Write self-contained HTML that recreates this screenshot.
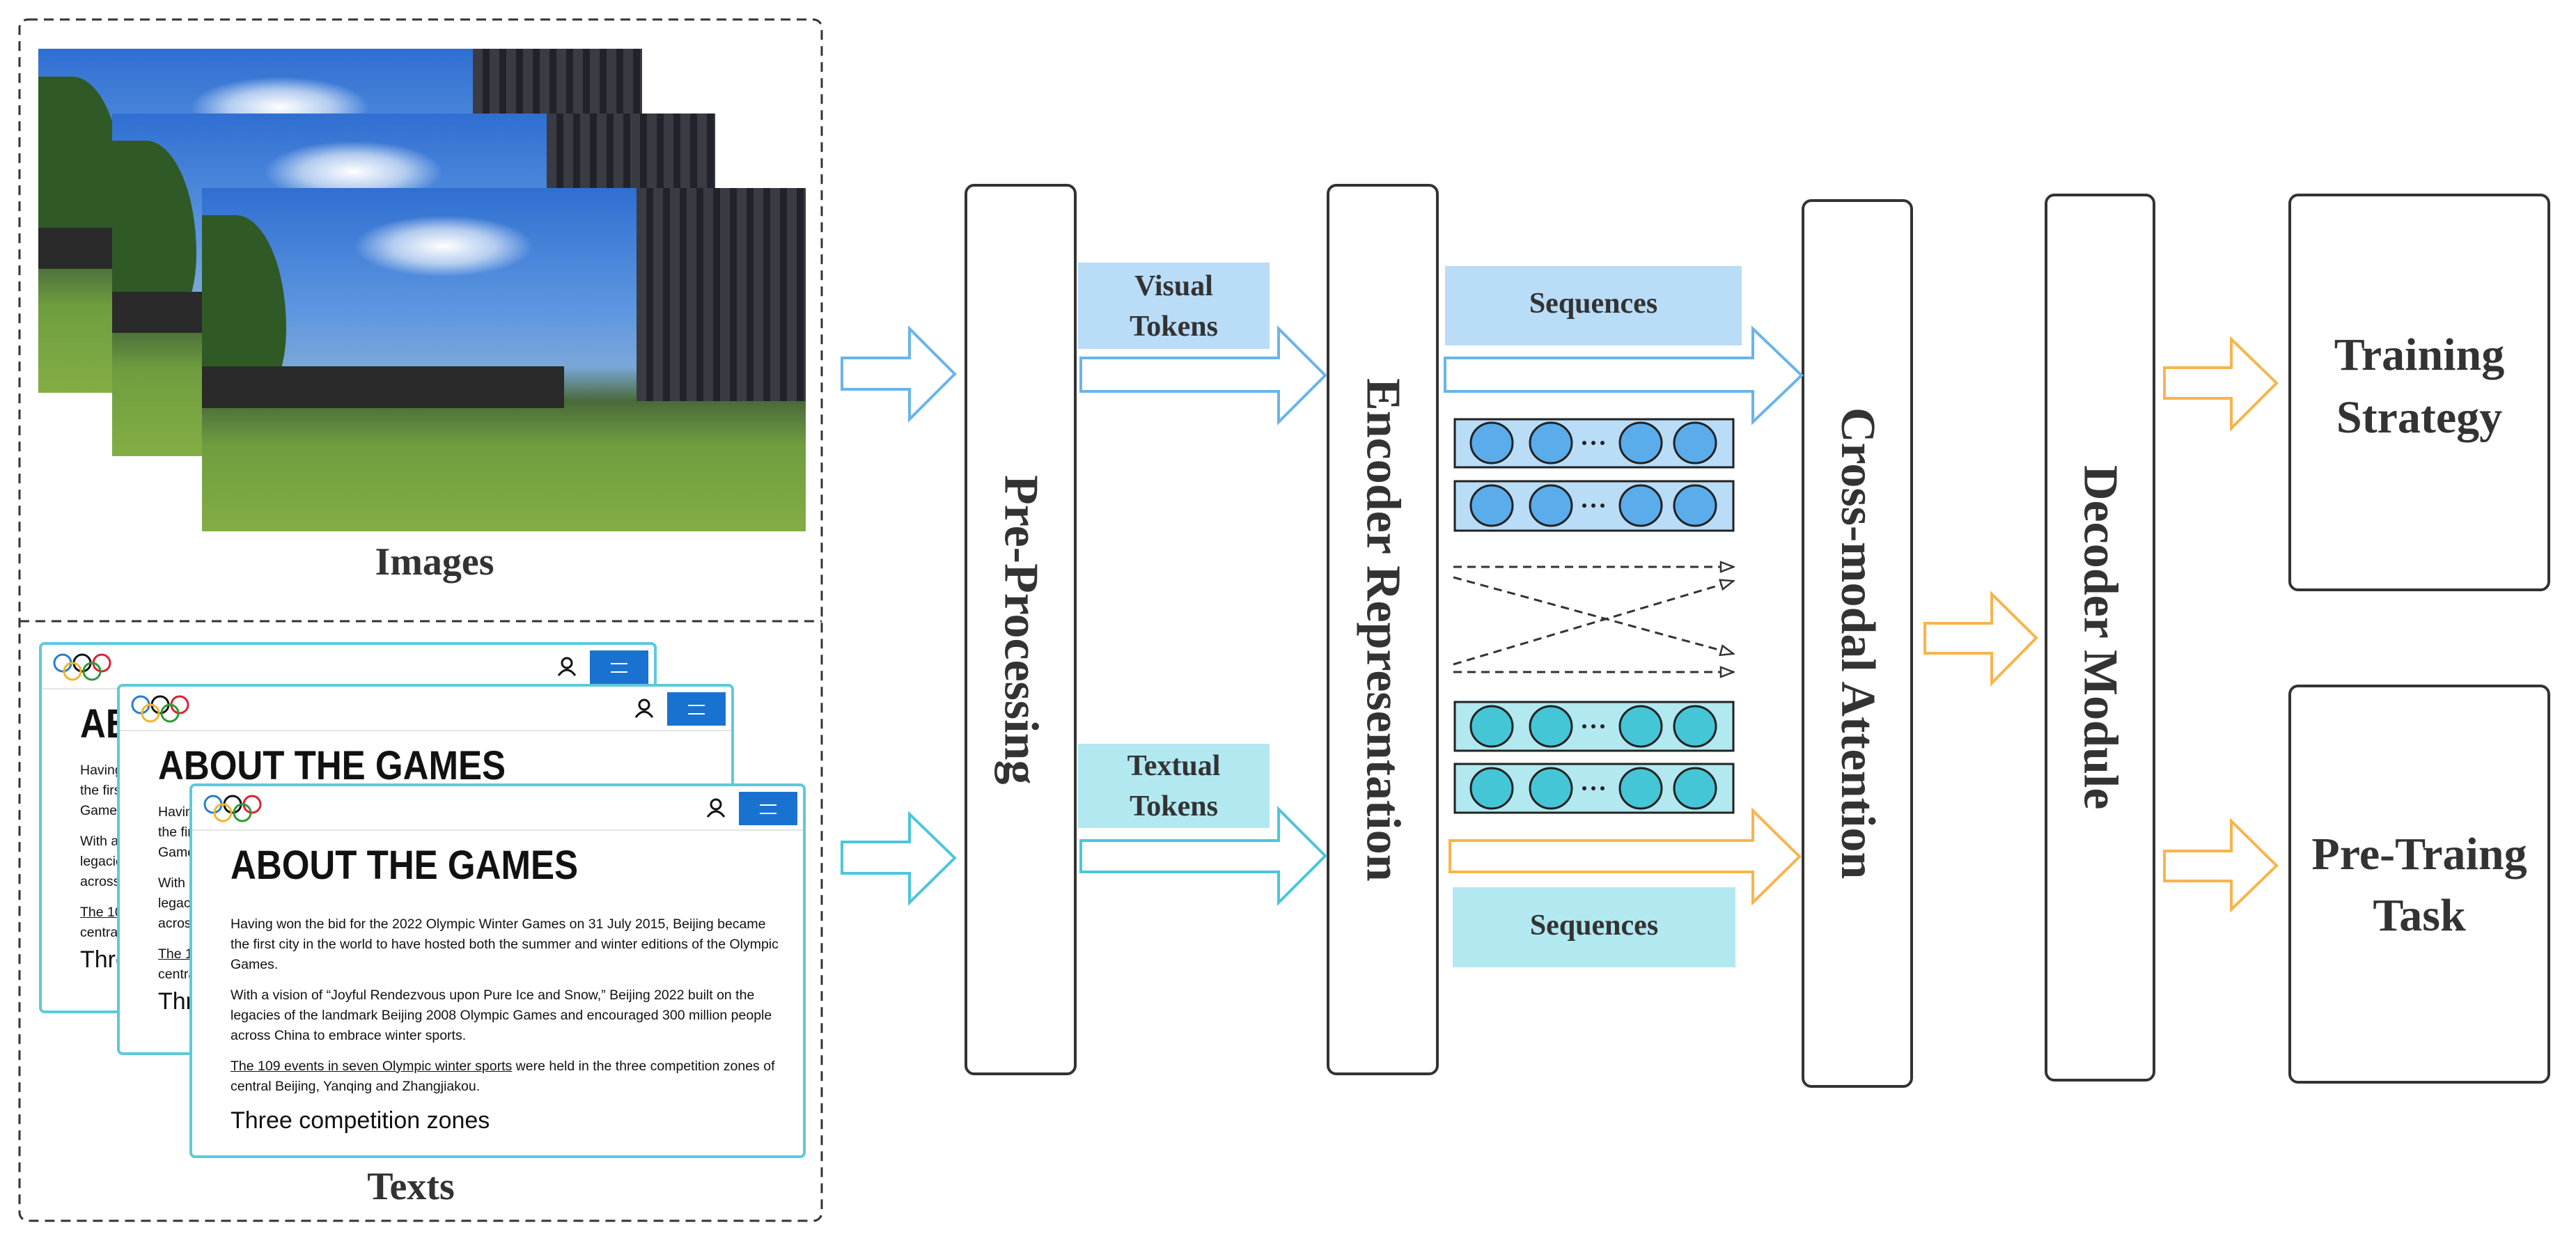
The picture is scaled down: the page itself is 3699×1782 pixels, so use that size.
<!DOCTYPE html>
<html><head><meta charset="utf-8">
<style>
body{margin:0;width:3699px;height:1782px;background:#fff;position:relative;overflow:hidden;font-family:"Liberation Serif",serif;}
.abs{position:absolute;}
.lbl{position:absolute;font-weight:bold;color:#333;text-align:center;font-family:"Liberation Serif",serif;}
.vt{writing-mode:vertical-rl;display:flex;align-items:center;justify-content:center;}
.box{position:absolute;border:4px solid #333;border-radius:14px;box-sizing:border-box;background:#fff;}
.photo{position:absolute;overflow:hidden;background:linear-gradient(180deg,#2f6fd1 0%,#5c95e0 35%,#7aa7d8 52%,#4a6a3a 62%,#6f9e3f 75%,#83ad45 100%);}
.photo .bld{position:absolute;right:0;top:0;width:28%;height:62%;background:repeating-linear-gradient(90deg,#3b3b44 0 14px,#22232a 14px 24px);}
.photo .tree{position:absolute;left:0;top:8%;width:14%;height:55%;background:#2f5a26;border-radius:0 60% 40% 0;}
.photo .wall{position:absolute;left:0;top:52%;width:60%;height:12%;background:#2a2a2a;}
.photo .cl{position:absolute;left:25%;top:8%;width:30%;height:18%;background:radial-gradient(ellipse,#fff 0%,rgba(255,255,255,.6) 40%,rgba(255,255,255,0) 70%);}
.card{position:absolute;border:4px solid #5dc9dc;border-radius:8px;background:#fff;box-sizing:border-box;overflow:hidden;font-family:"Liberation Sans",sans-serif;color:#111;}
.card .hdr{height:62px;border-bottom:2px solid #e5e5e5;position:relative;}
.card .btn{position:absolute;right:8px;top:8px;width:84px;height:48px;background:#1a72d0;}
.card .btn:after{content:"";position:absolute;left:30px;top:18px;width:24px;height:10px;border-top:2px solid #fff;border-bottom:2px solid #fff;}
.card h1{margin:0;position:absolute;left:55px;top:80px;font-size:58px;font-weight:900;letter-spacing:0;transform:scaleX(0.88);transform-origin:left;}
.card .p{position:absolute;left:55px;width:800px;font-size:19.5px;line-height:29px;}
</style></head><body>

<svg class="abs" style="left:0;top:0" width="3699" height="1782">
<rect x="28" y="28" width="1152" height="1725" rx="12" fill="none" stroke="#333" stroke-width="3" stroke-dasharray="14,9"/>
<line x1="28" y1="892" x2="1180" y2="892" stroke="#333" stroke-width="3" stroke-dasharray="14,9"/>
</svg>

<div class="photo" style="left:55px;top:70px;width:867px;height:494px"><div class="cl"></div><div class="tree"></div><div class="wall"></div><div class="bld"></div></div>
<div class="photo" style="left:161px;top:163px;width:866px;height:492px"><div class="cl"></div><div class="tree"></div><div class="wall"></div><div class="bld"></div></div>
<div class="photo" style="left:290px;top:270px;width:867px;height:493px"><div class="cl"></div><div class="tree"></div><div class="wall"></div><div class="bld"></div></div>
<div class="lbl" style="left:474px;top:775px;width:300px;font-size:56px">Images</div>

<div class="card" style="left:56px;top:922px;width:887px;height:533px">
<div class="hdr"><svg class="abs" style="left:14px;top:10px" width="100" height="44"><g fill="none" stroke-width="3"><circle cx="16" cy="16" r="12" stroke="#2a7bd1"/><circle cx="44" cy="16" r="12" stroke="#111"/><circle cx="72" cy="16" r="12" stroke="#d23"/><circle cx="30" cy="28" r="12" stroke="#f3b52b"/><circle cx="58" cy="28" r="12" stroke="#2a9a3a"/></g></svg><svg class="abs" style="right:110px;top:16px" width="30" height="30"><circle cx="15" cy="10" r="7" fill="none" stroke="#111" stroke-width="3"/><path d="M3 28 Q15 12 27 28" fill="none" stroke="#111" stroke-width="3"/></svg><div class="btn"></div></div>
<h1>ABOUT THE GAMES</h1>
<div class="p" style="top:166px">Having won the bid for the 2022 Olympic Winter Games on 31 July 2015, Beijing became the first city in the world to have hosted both the summer and winter editions of the Olympic Games.</div>
<div class="p" style="top:268px">With a vision of “Joyful Rendezvous upon Pure Ice and Snow,” Beijing 2022 built on the legacies of the landmark Beijing 2008 Olympic Games and encouraged 300 million people across China to embrace winter sports.</div>
<div class="p" style="top:370px"><u>The 109 events in seven Olympic winter sports</u> were held in the three competition zones of central Beijing, Yanqing and Zhangjiakou.</div>
<div class="p" style="top:438px;font-size:34px">Three competition zones</div>
</div>
<div class="card" style="left:168px;top:982px;width:886px;height:533px">
<div class="hdr"><svg class="abs" style="left:14px;top:10px" width="100" height="44"><g fill="none" stroke-width="3"><circle cx="16" cy="16" r="12" stroke="#2a7bd1"/><circle cx="44" cy="16" r="12" stroke="#111"/><circle cx="72" cy="16" r="12" stroke="#d23"/><circle cx="30" cy="28" r="12" stroke="#f3b52b"/><circle cx="58" cy="28" r="12" stroke="#2a9a3a"/></g></svg><svg class="abs" style="right:110px;top:16px" width="30" height="30"><circle cx="15" cy="10" r="7" fill="none" stroke="#111" stroke-width="3"/><path d="M3 28 Q15 12 27 28" fill="none" stroke="#111" stroke-width="3"/></svg><div class="btn"></div></div>
<h1>ABOUT THE GAMES</h1>
<div class="p" style="top:166px">Having won the bid for the 2022 Olympic Winter Games on 31 July 2015, Beijing became the first city in the world to have hosted both the summer and winter editions of the Olympic Games.</div>
<div class="p" style="top:268px">With a vision of “Joyful Rendezvous upon Pure Ice and Snow,” Beijing 2022 built on the legacies of the landmark Beijing 2008 Olympic Games and encouraged 300 million people across China to embrace winter sports.</div>
<div class="p" style="top:370px"><u>The 109 events in seven Olympic winter sports</u> were held in the three competition zones of central Beijing, Yanqing and Zhangjiakou.</div>
<div class="p" style="top:438px;font-size:34px">Three competition zones</div>
</div>
<div class="card" style="left:272px;top:1125px;width:885px;height:538px">
<div class="hdr"><svg class="abs" style="left:14px;top:10px" width="100" height="44"><g fill="none" stroke-width="3"><circle cx="16" cy="16" r="12" stroke="#2a7bd1"/><circle cx="44" cy="16" r="12" stroke="#111"/><circle cx="72" cy="16" r="12" stroke="#d23"/><circle cx="30" cy="28" r="12" stroke="#f3b52b"/><circle cx="58" cy="28" r="12" stroke="#2a9a3a"/></g></svg><svg class="abs" style="right:110px;top:16px" width="30" height="30"><circle cx="15" cy="10" r="7" fill="none" stroke="#111" stroke-width="3"/><path d="M3 28 Q15 12 27 28" fill="none" stroke="#111" stroke-width="3"/></svg><div class="btn"></div></div>
<h1>ABOUT THE GAMES</h1>
<div class="p" style="top:184px">Having won the bid for the 2022 Olympic Winter Games on 31 July 2015, Beijing became the first city in the world to have hosted both the summer and winter editions of the Olympic Games.</div>
<div class="p" style="top:286px">With a vision of “Joyful Rendezvous upon Pure Ice and Snow,” Beijing 2022 built on the legacies of the landmark Beijing 2008 Olympic Games and encouraged 300 million people across China to embrace winter sports.</div>
<div class="p" style="top:388px"><u>The 109 events in seven Olympic winter sports</u> were held in the three competition zones of central Beijing, Yanqing and Zhangjiakou.</div>
<div class="p" style="top:466px;font-size:34px">Three competition zones</div>
</div>
<div class="lbl" style="left:440px;top:1672px;width:300px;font-size:56px">Texts</div>

<div class="abs" style="left:1548px;top:377px;width:275px;height:124px;background:#b9dcf7"></div>
<div class="lbl" style="left:1548px;top:382px;width:275px;font-size:42px;line-height:58px">Visual<br>Tokens</div>
<div class="abs" style="left:1548px;top:1068px;width:275px;height:121px;background:#b2e8f0"></div>
<div class="lbl" style="left:1548px;top:1071px;width:275px;font-size:42px;line-height:58px">Textual<br>Tokens</div>
<div class="abs" style="left:2075px;top:382px;width:426px;height:114px;background:#b9dcf7"></div>
<div class="lbl" style="left:2075px;top:412px;width:426px;font-size:42px">Sequences</div>
<div class="abs" style="left:2086px;top:1274px;width:406px;height:115px;background:#b2e8f0"></div>
<div class="lbl" style="left:2086px;top:1305px;width:406px;font-size:42px">Sequences</div>

<div class="box vt" style="left:1385px;top:264px;width:161px;height:1280px"><span class="lbl" style="position:static;font-size:70px">Pre-Processing</span></div>
<div class="box vt" style="left:1905px;top:264px;width:161px;height:1280px"><span class="lbl" style="position:static;font-size:70px">Encoder Representation</span></div>
<div class="box vt" style="left:2587px;top:286px;width:160px;height:1276px"><span class="lbl" style="position:static;font-size:70px">Cross-modal Attention</span></div>
<div class="box vt" style="left:2936px;top:278px;width:159px;height:1275px"><span class="lbl" style="position:static;font-size:70px">Decoder Module</span></div>
<div class="box" style="left:3286px;top:278px;width:376px;height:571px"></div>
<div class="lbl" style="left:3286px;top:465px;width:376px;font-size:66px;line-height:90px">Training<br>Strategy</div>
<div class="box" style="left:3286px;top:983px;width:376px;height:573px"></div>
<div class="lbl" style="left:3286px;top:1183px;width:376px;font-size:66px;line-height:88px">Pre-Traing<br>Task</div>

<svg class="abs" style="left:0;top:0" width="3699" height="1782">
<defs><marker id="oh" markerWidth="22" markerHeight="20" refX="21" refY="10" orient="auto" markerUnits="userSpaceOnUse"><path d="M2,3 L20,10 L2,17 Z" fill="#fff" stroke="#333" stroke-width="2.5"/></marker></defs>
<g fill="#fff" stroke-width="4" stroke-linejoin="miter">
<polygon stroke="#6ab4ea" points="1209,514 1306,514 1306,472 1371,537 1306,602 1306,559 1209,559"/>
<polygon stroke="#4cc6dc" points="1209,1209 1306,1209 1306,1169 1371,1232 1306,1296 1306,1254 1209,1254"/>
<polygon stroke="#6ab4ea" points="1552,514 1836,514 1836,472 1903,539 1836,606 1836,562 1552,562"/>
<polygon stroke="#4cc6dc" points="1552,1207 1836,1207 1836,1162 1903,1229 1836,1296 1836,1252 1552,1252"/>
<polygon stroke="#6ab4ea" points="2075,514 2517,514 2517,472 2587,539 2517,606 2517,562 2075,562"/>
<polygon stroke="#f8b44c" points="2082,1207 2517,1207 2517,1164 2584,1230 2517,1296 2517,1252 2082,1252"/>
<polygon stroke="#f8b44c" points="2764,895 2860,895 2860,853 2924,916 2860,981 2860,938 2764,938"/>
<polygon stroke="#f8b44c" points="3108,528 3204,528 3204,487 3269,550 3204,615 3204,572 3108,572"/>
<polygon stroke="#f8b44c" points="3108,1222 3204,1222 3204,1179 3269,1243 3204,1306 3204,1265 3108,1265"/>
</g>
<g stroke="#222" stroke-width="3">
<rect x="2089" y="602" width="400" height="69" fill="#b9dcf7"/>
<rect x="2089" y="691" width="400" height="71" fill="#b9dcf7"/>
<rect x="2089" y="1008" width="400" height="70" fill="#b2e8f0"/>
<rect x="2089" y="1097" width="400" height="70" fill="#b2e8f0"/>
<g fill="#5aacea">
<ellipse cx="2142" cy="636" rx="30" ry="29"/><ellipse cx="2227" cy="636" rx="30" ry="29"/><ellipse cx="2356" cy="636" rx="30" ry="29"/><ellipse cx="2434" cy="636" rx="30" ry="29"/>
<ellipse cx="2142" cy="726" rx="30" ry="29"/><ellipse cx="2227" cy="726" rx="30" ry="29"/><ellipse cx="2356" cy="726" rx="30" ry="29"/><ellipse cx="2434" cy="726" rx="30" ry="29"/>
</g>
<g fill="#44c6d6">
<ellipse cx="2142" cy="1043" rx="30" ry="29"/><ellipse cx="2227" cy="1043" rx="30" ry="29"/><ellipse cx="2356" cy="1043" rx="30" ry="29"/><ellipse cx="2434" cy="1043" rx="30" ry="29"/>
<ellipse cx="2142" cy="1132" rx="30" ry="29"/><ellipse cx="2227" cy="1132" rx="30" ry="29"/><ellipse cx="2356" cy="1132" rx="30" ry="29"/><ellipse cx="2434" cy="1132" rx="30" ry="29"/>
</g>
</g>
<g fill="#222">
<circle cx="2275" cy="636" r="3"/><circle cx="2288" cy="636" r="3"/><circle cx="2301" cy="636" r="3"/>
<circle cx="2275" cy="726" r="3"/><circle cx="2288" cy="726" r="3"/><circle cx="2301" cy="726" r="3"/>
<circle cx="2275" cy="1043" r="3"/><circle cx="2288" cy="1043" r="3"/><circle cx="2301" cy="1043" r="3"/>
<circle cx="2275" cy="1132" r="3"/><circle cx="2288" cy="1132" r="3"/><circle cx="2301" cy="1132" r="3"/>
</g>
<g stroke="#333" stroke-width="3" stroke-dasharray="12,8" fill="none" marker-end="url(#oh)">
<line x1="2087" y1="814" x2="2490" y2="814"/>
<line x1="2087" y1="829" x2="2490" y2="939"/>
<line x1="2087" y1="954" x2="2490" y2="834"/>
<line x1="2087" y1="965" x2="2490" y2="965"/>
</g>
</svg>
</body></html>
